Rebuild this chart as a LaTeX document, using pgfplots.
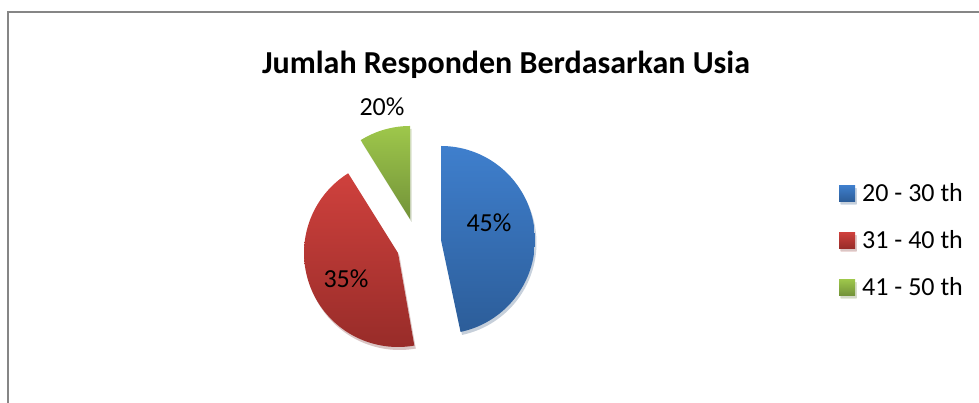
\documentclass[border=0pt]{standalone}
\usepackage{pgfplots}
\pgfplotsset{compat=1.18}
\usepackage{fontspec}
\setmainfont{Carlito}
\usetikzlibrary{shadows}
\definecolor{blueT}{HTML}{3F7FCD}
\definecolor{blueB}{HTML}{2C5D99}
\definecolor{redT}{HTML}{CF413D}
\definecolor{redB}{HTML}{982C29}
\definecolor{greenT}{HTML}{9EC74B}
\definecolor{greenB}{HTML}{739339}
\definecolor{frame}{HTML}{868686}
\begin{document}
\begin{tikzpicture}
\path[use as bounding box] (0,0) rectangle (979pt,403pt);
\begin{axis}[
  width=979pt, height=403pt, scale only axis,
  xmin=0, xmax=979, ymin=0, ymax=403,
  hide axis, clip=false,
  legend style={at={(axis cs:839,218)}, anchor=north west, draw=none, fill=none,
    inner sep=0pt, row sep=31pt, font=\fontsize{26}{30}\selectfont,
    nodes={inner sep=0pt, text height=16pt, text depth=0pt}},
  legend cell align=left,
]
% Jumlah Responden Berdasarkan Usia: 20-30 th 45%, 31-40 th 35%, 41-50 th 20%
% slices (exploded), angles as drawn in the reference
\addplot[draw=none, top color=blueT, bottom color=blueB,
  drop shadow={shadow xshift=1.5pt, shadow yshift=-3pt, opacity=0.18},
  domain=-78:90, samples=90, variable=\t,
  legend image code/.code={\path[top color=blueT, bottom color=blueB] (0pt,-8pt) rectangle (16pt,8pt); \path (23pt,0pt);}]
  ({441+94*cos(t)}, {163+94*sin(t)}) -- (axis cs:441,163) -- cycle;
\addlegendentry{20 - 30 th}
\addplot[draw=none, top color=redT, bottom color=redB,
  drop shadow={shadow xshift=1.5pt, shadow yshift=-3pt, opacity=0.18},
  domain=122:280, samples=90, variable=\t,
  legend image code/.code={\path[top color=redT, bottom color=redB] (0pt,-8pt) rectangle (16pt,8pt); \path (23pt,0pt);}]
  ({398+94*cos(t)}, {150+94*sin(t)}) -- (axis cs:398,150) -- cycle;
\addlegendentry{31 - 40 th}
\addplot[draw=none, top color=greenT, bottom color=greenB,
  drop shadow={shadow xshift=1.5pt, shadow yshift=-3pt, opacity=0.18},
  domain=90:122, samples=30, variable=\t,
  legend image code/.code={\path[top color=greenT, bottom color=greenB] (0pt,-8pt) rectangle (16pt,8pt); \path (23pt,0pt);}]
  ({410+93*cos(t)}, {184+93*sin(t)}) -- (axis cs:410,184) -- cycle;
\addlegendentry{41 - 50 th}
% data labels
\node[anchor=base, font=\fontsize{26}{30}\selectfont] at (axis cs:489,171) {45\%};
\node[anchor=base, font=\fontsize{26}{30}\selectfont] at (axis cs:346,115) {35\%};
\node[anchor=base, font=\fontsize{26}{30}\selectfont] at (axis cs:382,287) {20\%};
% title
\node[anchor=base, font=\bfseries\fontsize{32}{38}\selectfont] at (axis cs:506,329) {Jumlah Responden Berdasarkan Usia};
% chart area frame
\draw[frame, line width=2pt] (axis cs:8,0) -- (axis cs:8,391) -- (axis cs:979,391);
\end{axis}
\end{tikzpicture}
\end{document}
